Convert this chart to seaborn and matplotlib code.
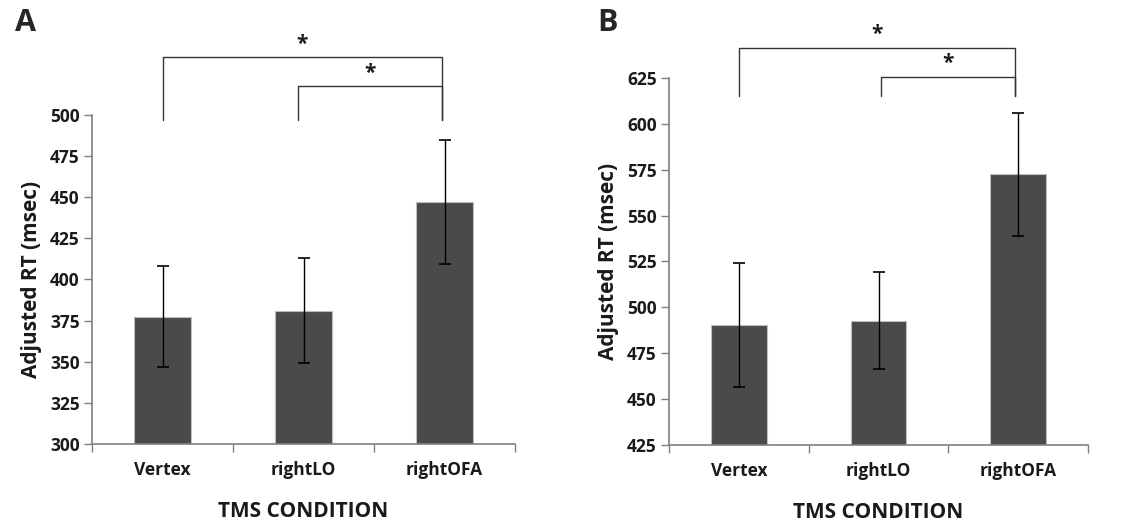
import matplotlib
matplotlib.use("Agg")
import matplotlib.pyplot as plt
import seaborn as sns
import pandas as pd
import numpy as np

sns.set_theme(style="white")
plt.rcParams['font.family'] = ['Open Sans', 'DejaVu Sans']
plt.rcParams['font.weight'] = 'bold'

conditions = ["Vertex", "rightLO", "rightOFA"]
rt_a = [377.5, 381.0, 447.0]
err_low_a = [347.0, 349.5, 409.5]
err_high_a = [408.0, 413.0, 485.0]
rt_b = [490.5, 492.6, 572.7]
err_low_b = [456.8, 466.4, 539.1]
err_high_b = [524.4, 519.4, 606.1]

ylim_a = (300, 500)
ylim_b = (425, 625)
ticks_a = [300, 325, 350, 375, 400, 425, 450, 475, 500]
ticks_b = [425, 450, 475, 500, 525, 550, 575, 600, 625]

# brackets: (x_left, x_right, y_top, y_leg_bottom)
brackets_a = [(0, 1.98, 535, 497), (0.96, 1.98, 517.5, 497)]
brackets_b = [(0, 1.98, 641.5, 615), (1.02, 1.98, 625.5, 615)]

fig = plt.figure(figsize=(11.25, 5.21), dpi=100)
ax_a = fig.add_axes([0.0818, 0.1478, 0.3760, 0.6315])
ax_b = fig.add_axes([0.5947, 0.1459, 0.3724, 0.7044])

bar_color = "#4a4a4a"
axis_color = "#7f7f7f"
text_color = "#1a1a1a"


def draw(ax, vals, lo, hi, ylim, ticks, brackets):
    df = pd.DataFrame({"cond": conditions, "rt": vals})
    sns.barplot(data=df, x="cond", y="rt", ax=ax, color=bar_color,
                saturation=1, width=0.4, errorbar=None,
                edgecolor="#bdbdbd", linewidth=0.8)
    xs = np.arange(len(conditions))
    v = np.array(vals)
    yerr = np.vstack([v - np.array(lo), np.array(hi) - v])
    ax.errorbar(xs, v, yerr=yerr, fmt="none", ecolor="black",
                elinewidth=1.0, capsize=4, capthick=1.2, zorder=5)
    ax.set_ylim(*ylim)
    ax.set_xlim(-0.5, 2.5)
    ax.set_yticks(ticks)
    ax.set_yticklabels([str(t) for t in ticks], fontsize=12.5,
                       fontweight="bold", color=text_color)
    ax.set_xticks(xs)
    ax.set_xticklabels(conditions, fontsize=12.5, fontweight="bold",
                       color=text_color)
    ax.set_xticks([-0.5, 0.5, 1.5, 2.5], minor=True)
    ax.tick_params(axis="x", which="major", length=0, pad=12)
    ax.tick_params(axis="x", which="minor", length=6, width=1, color=axis_color,
                   direction="out", bottom=True)
    ax.tick_params(axis="y", length=6, width=1, color=axis_color,
                   direction="out", left=True, pad=3)
    ax.set_xlabel("TMS CONDITION", fontsize=15, fontweight="bold",
                  labelpad=16, color=text_color)
    ax.set_ylabel("Adjusted RT (msec)", fontsize=15, fontweight="bold",
                  labelpad=6, color=text_color)
    sns.despine(ax=ax)
    for s in ["left", "bottom"]:
        ax.spines[s].set_color(axis_color)
        ax.spines[s].set_linewidth(1.2)
    for (x0, x1, yt, yb) in brackets:
        ax.plot([x0, x0, x1, x1], [yb, yt, yt, yb], color="#333333",
                lw=1.0, clip_on=False)
        ax.text((x0 + x1) / 2, yt + (ylim[1] - ylim[0]) * 0.008, "*",
                ha="center", va="bottom", fontsize=15, fontweight="bold",
                clip_on=False, color=text_color)


draw(ax_a, rt_a, err_low_a, err_high_a, ylim_a, ticks_a, brackets_a)
draw(ax_b, rt_b, err_low_b, err_high_b, ylim_b, ticks_b, brackets_b)

fig.text(0.013, 0.955, "A", fontsize=22, fontweight="bold", va="center")
fig.text(0.531, 0.955, "B", fontsize=22, fontweight="bold", va="center")

fig.savefig("out.png", dpi=100)
